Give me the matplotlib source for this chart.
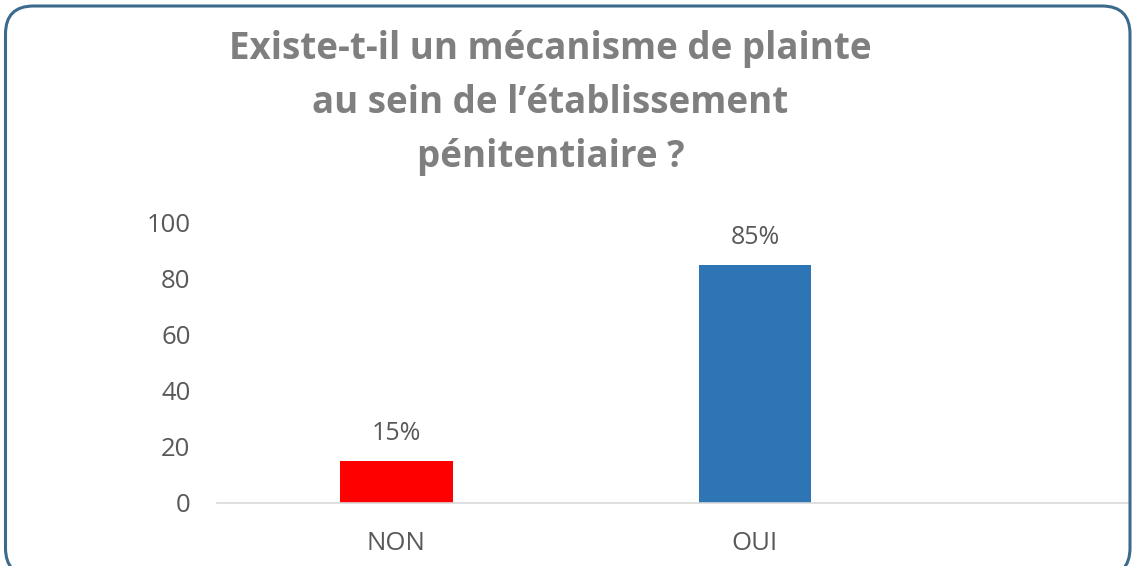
import matplotlib
matplotlib.use("Agg")
import matplotlib.pyplot as plt
from matplotlib.patches import FancyBboxPatch

categories = ["NON", "OUI"]
values = [15, 85]
value_labels = ["15%", "85%"]
bar_colors = ["#ff0000", "#2e75b6"]
yticks = [0, 20, 40, 60, 80, 100]

plt.rcParams['font.family'] = ['Open Sans', 'DejaVu Sans']

fig = plt.figure(figsize=(11.35, 5.66), dpi=100)
ax = fig.add_axes([217 / 1135, 63 / 566, (1128 - 217) / 1135, (503 - 223) / 566])

x = list(range(len(categories)))
ax.bar(x, values, width=0.315, color=bar_colors)
for xi, v, lab in zip(x, values, value_labels):
    ax.annotate(lab, (xi, v), xytext=(0, 11), textcoords="offset points",
                ha="center", va="bottom", fontsize=18, color="#595959")

ax.set_xlim(-0.5, 2.04)
ax.set_ylim(0, 100)
ax.set_yticks(yticks)
ax.set_xticks(x)
ax.set_xticklabels(categories)
ax.tick_params(axis="both", length=0, labelsize=18.5, colors="#595959")
ax.tick_params(axis="y", pad=19)
ax.tick_params(axis="x", pad=20)
for s in ["top", "right", "left"]:
    ax.spines[s].set_visible(False)
ax.spines["bottom"].set_color("#d9d9d9")
ax.spines["bottom"].set_linewidth(1.2)

fig.text(0.485, 0.818, "Existe-t-il un mécanisme de plainte\nau sein de l\u2019établissement\npénitentiaire ?",
         ha="center", va="center", fontsize=26.5, fontweight="bold", color="#7f7f7f",
         linespacing=1.55)

border = FancyBboxPatch((0.055, -0.1), 11.245, 5.70,
                        boxstyle="round,pad=0,rounding_size=0.28",
                        transform=fig.dpi_scale_trans, fill=False,
                        edgecolor="#3b6a8c", linewidth=2.2)
fig.patches.append(border)

fig.savefig("out.png", dpi=100)
